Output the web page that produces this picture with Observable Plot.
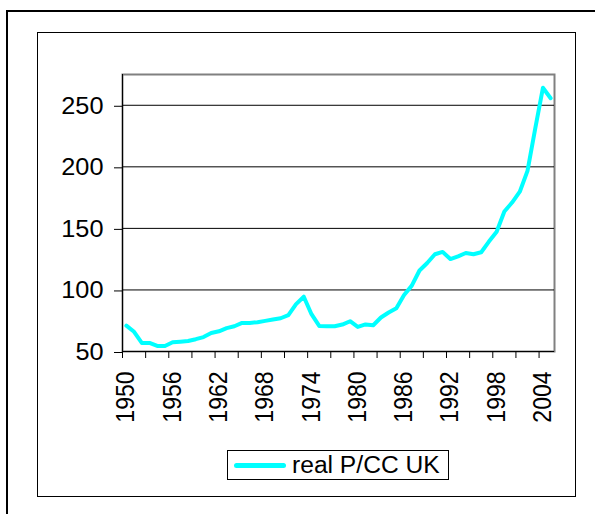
<!DOCTYPE html>
<html>
<head>
<meta charset="utf-8">
<script src="https://cdn.jsdelivr.net/npm/d3@7"></script>
<script src="https://cdn.jsdelivr.net/npm/@observablehq/plot@0.6"></script>
<style>
  html, body { margin: 0; padding: 0; background: #fff; }
  body { width: 595px; height: 514px; overflow: hidden; position: relative; font-family: Arial, "Liberation Sans", sans-serif; }
  #outer { position: absolute; left: 6px; top: 10px; width: 700px; height: 700px; border: 2px solid #000; }
  #inner { position: absolute; left: 37px; top: 32px; width: 539px; height: 465px; border: 1px solid #000; box-sizing: border-box; }
  #chart { position: absolute; left: 0; top: 0; }
  #legend { position: absolute; left: 227px; top: 450px; width: 222px; height: 30px; box-sizing: border-box; border: 1px solid #000; background: #fff; display: flex; align-items: center; }
  #legend .swatch { margin-left: 6px; width: 52px; height: 5px; border-radius: 2.5px; background: #00FFFF; }
  #legend .label { margin-left: 6px; font-size: 23px; color: #000; line-height: 1; display: inline-block; transform: scaleX(1.07); transform-origin: left center; white-space: nowrap; }
</style>
</head>
<body>
<div id="outer"></div>
<div id="inner"></div>
<div id="chart"></div>
<div id="legend"><div class="swatch"></div><div class="label" id="legendLabel"></div></div>
<script>
// Categories (years)
const years = [1950,1951,1952,1953,1954,1955,1956,1957,1958,1959,
               1960,1961,1962,1963,1964,1965,1966,1967,1968,1969,
               1970,1971,1972,1973,1974,1975,1976,1977,1978,1979,
               1980,1981,1982,1983,1984,1985,1986,1987,1988,1989,
               1990,1991,1992,1993,1994,1995,1996,1997,1998,1999,
               2000,2001,2002,2003,2004,2005];
// Series: real P/CC UK
const seriesName = "real P/CC UK";
const values = [71,66,57,57,54.5,54.5,57.5,58,58.5,60,
                61.7,65,66.4,69,70.5,73.2,73.2,73.8,74.9,76,
                77,79.5,88.5,94.5,80.3,70.8,70.5,70.5,71.9,74.6,
                70,72,71.3,77.6,81.7,85.2,95.9,103.5,115.8,121.9,
                129,130.9,125.1,127.3,130,129,130.6,139.3,147.3,163.7,
                171,179.8,196.7,231,264.2,255.7];
// Tick labels
const xTickLabels = [1950,1956,1962,1968,1974,1980,1986,1992,1998,2004];
const yTicks = [50,100,150,200,250];
const yGrid = [100,150,200,250];

const data = years.map((y, i) => ({year: y, value: values[i]}));
// Excel-style category axis: tick marks on category boundaries, every 3 categories
const boundaries = years.filter((y, i) => i % 3 === 0).map(y => y - 0.5);
const xDomain = [years[0] - 0.5, years[years.length - 1] + 0.5];
const yDomain = [50, 275];

const font = 'Arial, "Liberation Sans", sans-serif';

const chart = Plot.plot({
  width: 595,
  height: 514,
  marginLeft: 122,
  marginRight: 41,
  marginTop: 74,
  marginBottom: 163,
  style: {background: "transparent", fontFamily: font, fontSize: "23px", color: "#000"},
  x: {domain: xDomain, axis: null},
  y: {domain: yDomain, axis: null},
  marks: [
    Plot.frame({stroke: "#808080", strokeWidth: 2}),
    Plot.ruleY(yGrid, {stroke: "#000", strokeWidth: 1}),
    Plot.ruleY([yDomain[0]], {stroke: "#000", strokeWidth: 1}),
    Plot.ruleX([xDomain[0]], {stroke: "#000", strokeWidth: 1}),
    Plot.axisY({ticks: yTicks, tickSize: 8, tickPadding: 11, fontSize: 23, label: null, tickFormat: d => String(d), dy: 1}),
    Plot.axisX({ticks: boundaries, tickSize: 7, tickFormat: () => "", label: null}),
    Plot.axisX({ticks: xTickLabels, tickSize: 0, tickPadding: 20, tickRotate: -90, fontSize: 23, label: null, tickFormat: d => String(d)}),
    Plot.line(data, {x: "year", y: "value", stroke: "#00FFFF", strokeWidth: 4, strokeLinejoin: "round", strokeLinecap: "round"})
  ]
});

document.getElementById("chart").appendChild(chart);
document.getElementById("legendLabel").textContent = seriesName;

// The reference's lettering is slightly wider than it is tall: stretch text horizontally
const stretch = 1.1;
chart.querySelectorAll("text").forEach(t => {
  if (!t.textContent) return;
  const tr = t.getAttribute("transform") || "";
  if (/rotate\(/.test(tr)) {
    t.setAttribute("transform", tr.replace(/rotate\(/, `scale(${stretch},1) rotate(`));
  } else {
    const b = t.getBBox();
    const ax = b.x + b.width; // right edge (text-anchor end)
    if (isFinite(ax)) {
      t.setAttribute("transform", `${tr} translate(${ax},0) scale(${stretch},1) translate(${-ax},0)`.trim());
    }
  }
});
</script>
</body>
</html>
